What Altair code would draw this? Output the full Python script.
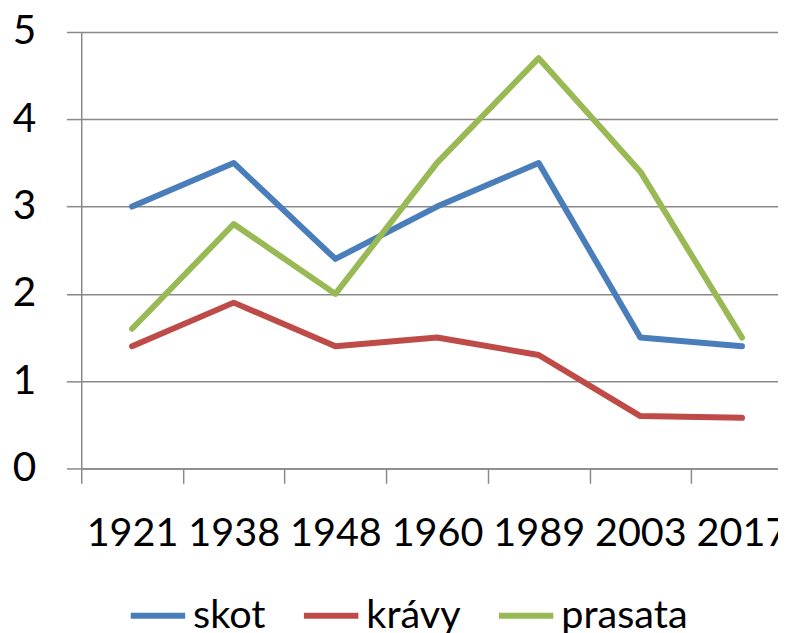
import altair as alt
import pandas as pd

years = ["1921", "1938", "1948", "1960", "1989", "2003", "2017"]
skot = [3.0, 3.5, 2.4, 3.0, 3.5, 1.5, 1.4]
kravy = [1.4, 1.9, 1.4, 1.5, 1.3, 0.6, 0.58]
prasata = [1.6, 2.8, 2.0, 3.5, 4.7, 3.4, 1.5]
series = ["skot", "krávy", "prasata"]
colors = ["#4A7EBB", "#BE4B48", "#98B954"]

rows = []
for name, vals in zip(series, [skot, kravy, prasata]):
    for yr, v in zip(years, vals):
        rows.append({"rok": yr, "serie": name, "hodnota": v})
df = pd.DataFrame(rows)

FONT = "Lato"
GRID = "#898989"

chart = alt.Chart(df).mark_line(
    strokeWidth=6, strokeCap="round", strokeJoin="round"
).encode(
    x=alt.X(
        "rok:O", sort=years, bandPosition=0.5,
        scale=alt.Scale(type="band", range=[0, 719], paddingInner=0, paddingOuter=0),
        axis=alt.Axis(
            title=None, labelAngle=0, tickBand="extent", grid=False,
            domainColor=GRID, tickColor=GRID, tickSize=15, domainWidth=1.5, tickWidth=1.5,
            labelFontSize=40, labelFont=FONT, labelColor="black", labelPadding=63,
            labelBaseline="alphabetic", labelOverlap=False, labelBound=False, labelFlush=False,
        ),
    ),
    y=alt.Y(
        "hodnota:Q",
        scale=alt.Scale(domain=[0, 5], nice=False),
        axis=alt.Axis(
            title=None, values=[0, 1, 2, 3, 4, 5], format="d",
            grid=True, gridColor=GRID, gridWidth=1.5,
            domainColor=GRID, domainWidth=1.5, tickColor=GRID, tickWidth=1.5, tickSize=15,
            labelFontSize=41, labelFont=FONT, labelColor="black", labelPadding=31,
        ),
    ),
    color=alt.Color(
        "serie:N", sort=series,
        scale=alt.Scale(domain=series, range=colors),
        legend=alt.Legend(
            orient="none", legendX=47, legendY=559, direction="horizontal", title=None,
            symbolType="stroke", symbolSize=3025, symbolStrokeWidth=6,
            labelFontSize=40, labelFont=FONT, labelColor="black", labelOffset=5,
            columnPadding=26, padding=0,
        ),
    ),
).properties(
    width=704, height=441,
    autosize=alt.AutoSizeParams(type="none"),
    padding={"left": 74, "top": 21, "right": 0, "bottom": 163},
).configure_view(stroke=None)

chart.save("out.html", embed_options={"renderer": "svg", "actions": False})
